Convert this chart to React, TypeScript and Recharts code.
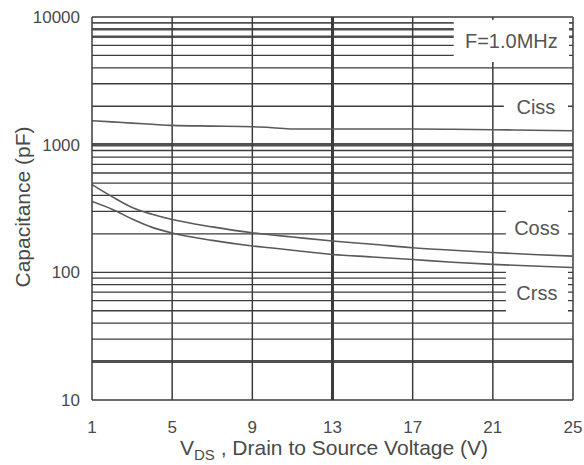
import React from 'react';
import { LineChart, Line, XAxis, YAxis, ReferenceLine, ReferenceArea } from 'recharts';

// Drain-to-source voltage (V)
const vds = [1, 2, 3, 4, 5, 7, 9, 10, 11, 13, 15, 17, 19, 21, 23, 25];
// Capacitances (pF)
const ciss = [1540, 1509, 1475, 1445, 1415, 1398, 1382, 1358, 1326, 1326, 1326, 1326, 1320, 1310, 1298, 1286];
const coss = [487, 392, 322, 285, 259, 227, 204, 196, 189, 176, 166, 156, 149, 143, 138, 134];
const crss = [359, 312, 262, 225, 203, 178, 161, 155, 149, 138, 132, 126, 120, 115.5, 112, 109];

const xTicks = [1, 5, 9, 13, 17, 21, 25];
const yTicks = [10, 100, 1000, 10000];
const xGrid = [5, 9, 13, 17, 21, 25];
const yGrid = [
  20, 30, 40, 50, 60, 70, 80, 90, 100,
  200, 300, 400, 500, 600, 700, 800, 900, 1000,
  2000, 3000, 4000, 5000, 6000, 7000, 8000, 9000, 10000,
];
const heavyY: Record<number, number> = { 20: 3, 1000: 3.5, 7000: 2.5, 8000: 2.5, 9000: 1.8 };
const heavyX: Record<number, number> = { 13: 3 };

const labelBoxes = [
  { text: 'F=1.0MHz', x1: 19.05, x2: 24.8, y1: 4450, y2: 9480 },
  { text: 'Ciss', x1: 21.55, x2: 24.75, y1: 1567, y2: 2457 },
  { text: 'Coss', x1: 21.65, x2: 24.75, y1: 157, y2: 322 },
  { text: 'Crss', x1: 21.65, x2: 24.75, y1: 46, y2: 104 },
];

const data = vds.map((v, i) => ({ vds: v, ciss: ciss[i], coss: coss[i], crss: crss[i] }));

const FONT = '"Liberation Sans", Arial, Helvetica, sans-serif';
const GRID = '#3c3c3c';
const TEXT = '#4a4a4a';

export default function App() {
  return (
    <div style={{ position: 'absolute', left: 0, top: 0, background: '#fff' }}>
      <LineChart
        width={584}
        height={465}
        data={data}
        margin={{ top: 17, right: 11, bottom: 0, left: 12 }}
        style={{ fontFamily: FONT }}
      >
        <XAxis
          dataKey="vds"
          type="number"
          domain={[1, 25]}
          ticks={xTicks}
          allowDataOverflow
          height={65}
          tickLine={false}
          tickSize={6}
          tickMargin={15}
          axisLine={{ stroke: GRID, strokeWidth: 1.5 }}
          tick={{ fontSize: 17, fill: TEXT, fontFamily: FONT }}
          label={{
            content: () => (
              <text x={334} y={455} textAnchor="middle" fontSize={21} fill={TEXT} fontFamily={FONT}>
                V
                <tspan fontSize={15} dy={5}>DS</tspan>
                <tspan dy={-5}> , Drain to Source Voltage (V)</tspan>
              </text>
            ),
          }}
        />
        <YAxis
          type="number"
          scale="log"
          domain={[10, 10000]}
          ticks={yTicks}
          allowDataOverflow
          width={80}
          tickLine={false}
          tickSize={6}
          tickMargin={6}
          axisLine={{ stroke: GRID, strokeWidth: 1.5 }}
          tick={{ fontSize: 17, fill: TEXT, fontFamily: FONT }}
          label={{
            content: () => (
              <text
                x={22}
                y={207}
                transform="rotate(-90 22 207)"
                textAnchor="middle"
                dominantBaseline="central"
                fontSize={21}
                fill={TEXT}
                fontFamily={FONT}
              >
                Capacitance (pF)
              </text>
            ),
          }}
        />
        {yGrid.map((v) => (
          <ReferenceLine
            key={'y' + v}
            y={v}
            stroke={heavyY[v] ? '#505050' : GRID}
            strokeWidth={heavyY[v] || 1.3}
            zIndex={300}
          />
        ))}
        {xGrid.map((v) => (
          <ReferenceLine
            key={'x' + v}
            x={v}
            stroke={GRID}
            strokeWidth={heavyX[v] || 1.5}
            zIndex={300}
          />
        ))}
        {labelBoxes.map((b) => (
          <ReferenceArea
            key={b.text}
            x1={b.x1}
            x2={b.x2}
            y1={b.y1}
            y2={b.y2}
            fill="#ffffff"
            fillOpacity={1}
            stroke="none"
            zIndex={350}
            label={{ value: b.text, position: 'center', fontSize: 20, fill: '#555', fontFamily: FONT }}
          />
        ))}
        <Line type="monotone" dataKey="ciss" stroke="#5a5a5a" strokeWidth={1.6} dot={false} isAnimationActive={false} zIndex={400} />
        <Line type="monotone" dataKey="coss" stroke="#5a5a5a" strokeWidth={1.6} dot={false} isAnimationActive={false} zIndex={400} />
        <Line type="monotone" dataKey="crss" stroke="#5a5a5a" strokeWidth={1.6} dot={false} isAnimationActive={false} zIndex={400} />
      </LineChart>
    </div>
  );
}
